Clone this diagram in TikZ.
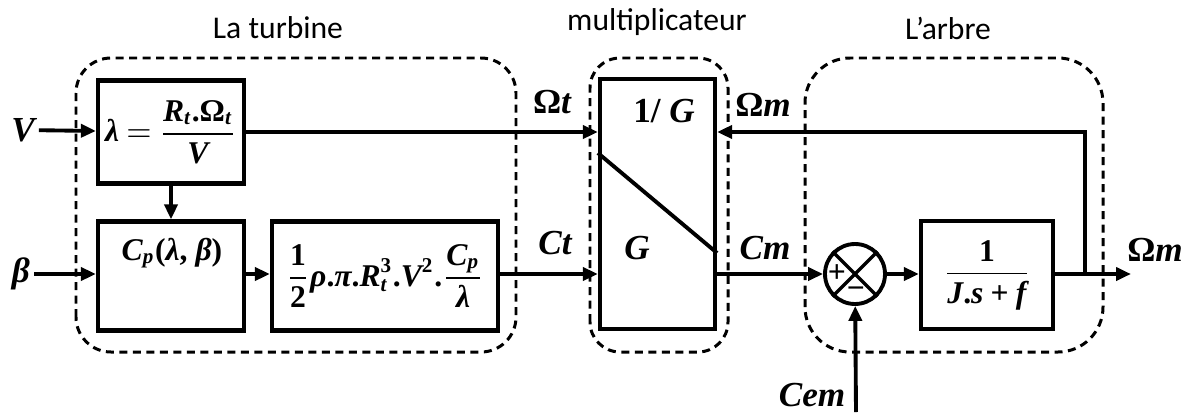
\documentclass[tikz,border=0pt]{standalone}
\usepackage{amsmath}
\usepackage{fontspec}
\setmainfont{Carlito}
\newfontfamily\labfont{Liberation Serif}
\newcommand{\vi}[1]{\text{\labfont\bfseries\itshape #1}}
\newcommand{\vu}[1]{\text{\labfont\bfseries #1}}
\usetikzlibrary{arrows.meta}

\begin{document}
\begin{tikzpicture}[
    wire/.style={draw=black, line width=1.1pt},
    signal/.style={wire, -{Triangle[length=1.5mm,width=1.3mm]}},
    boundary/.style={draw=black, line width=0.85pt,
        dash pattern=on 0.8mm off 0.55mm},
    block/.style={draw=black, line width=1.2pt, inner sep=1pt,
        font=\fontsize{9}{11}\selectfont},
    summer/.style={draw=black, circle, line width=1.1pt,
        minimum size=6.0mm, inner sep=0pt},
    sign/.style={font=\fontsize{9}{10}\selectfont\labfont\bfseries,
        inner sep=0pt},
    sig label/.style={font=\fontsize{10}{12}\selectfont\labfont\bfseries\itshape,
        inner sep=1pt},
    part title/.style={font=\fontsize{9}{10}\selectfont, inner sep=1pt}
]
    \path[use as bounding box] (0,0) rectangle (11.86,4.12);

% La turbine
    \draw[boundary, rounded corners=3.5mm] (0.76,0.60) rectangle (5.16,3.54);
    \node[part title] (title-turb) at (2.78,3.84) {La turbine};

    \node[block, minimum width=1.46cm, minimum height=1.03cm]
        (turb-lambda) at (1.71,2.80)
        {$\vi{λ}\mkern-1mu=\mkern-1mu
          \dfrac{\vi{R}_{\vi{t}}\vu{.Ω}_{\vi{t}}}{\vi{V}}$};
    \node[block, minimum width=1.46cm, minimum height=1.09cm]
        (turb-cp) at (1.71,1.36) {};
    \node[block, draw=none] (turb-cp-text) at (1.72,1.59)
        {$\vi{C}_{\vi{p}}\vu{(}\vi{λ}\vu{, }\vi{β}\vu{)}$};
    \node[block, minimum width=2.26cm, minimum height=1.09cm]
        (turb-power) at (3.85,1.36)
        {$\dfrac{\vu{1}}{\vu{2}}\vi{ρ}\vu{.}\vi{π}\vu{.}\vi{R}_{\vi{t}}^{\vu{3}}\vu{.}
          \vi{V}^{\vu{2}}\vu{.}\dfrac{\vi{C}_{\vi{p}}}{\vi{λ}}$};

    \node[sig label] (in-V) at (0.23,2.82) {V};
    \node[sig label] (in-beta) at (0.21,1.38) {β};

    \draw[signal] (in-V) -- (turb-lambda);
    \draw[signal] (in-beta) -- (in-beta -| turb-cp.west);
    \draw[signal] (turb-lambda) -- (turb-cp);
    \draw[signal] (turb-cp.east |- in-beta) -- (in-beta -| turb-power.west);

% multiplicateur
    \draw[boundary, rounded corners=3mm] (5.90,0.60) rectangle (7.28,3.54);
    \node[part title] (title-mult) at (6.57,3.90) {multiplicateur};

    \node[block, minimum width=1.15cm, minimum height=2.50cm]
        (mult-gain) at (6.575,2.08) {};
    \draw[wire] (mult-gain.west |- 0,2.59) -- (mult-gain.east |- 0,1.59);
    \node[sig label] (mult-inv) at (6.64,3.01) {{\upshape 1/} G};
    \node[sig label] (mult-G) at (6.37,1.64) {G};

    \draw[signal] (turb-lambda) -- (turb-lambda -| mult-gain.west);
    \draw[signal] (in-beta -| turb-power.east) -- (in-beta -| mult-gain.west);
    \node[sig label] (lab-Wt) at (5.52,3.10) {{\upshape Ω}t};
    \node[sig label] (lab-Ct) at (5.55,1.69) {Ct};

% L'arbre
    \draw[boundary, rounded corners=4.5mm] (8.05,0.60) rectangle (11.03,3.54);
    \node[part title] (title-shaft) at (9.48,3.84) {L’arbre};

    \node[summer] (shaft-sum) at (8.55,1.38) {};
    \draw[wire, line width=1pt] (shaft-sum.45) -- (shaft-sum.225);
    \draw[wire, line width=1pt] (shaft-sum.135) -- (shaft-sum.315);
    \node[sign] (sum-plus) at (8.37,1.38) {+};
    \node[sign] (sum-minus) at (8.56,1.19) {−};

    \node[block, minimum width=1.32cm, minimum height=1.08cm]
        (shaft-tf) at (9.87,1.37)
        {$\dfrac{\vu{1}}{\vi{J}\vu{.}\vi{s}\mathbin{\vu{+}}\vi{f}}$};

    \coordinate (shaft-branch) at (10.85,1.38);
    \coordinate (out-Wm) at (11.31,1.38);
    \coordinate (in-Cem) at (8.56,0);

    \draw[signal] (mult-gain.east |- shaft-sum) -- (shaft-sum);
    \draw[signal] (shaft-sum) -- (shaft-sum -| shaft-tf.west);
    \draw[signal] (shaft-sum -| shaft-tf.east) -- (out-Wm);
    \draw[signal] (shaft-branch) |- (mult-gain.east |- turb-lambda);
    \draw[signal] (in-Cem) -- (shaft-sum);

    \node[sig label] (lab-Wm) at (7.63,3.07) {{\upshape Ω}m};
    \node[sig label] (lab-Cm) at (7.65,1.64) {Cm};
    \node[sig label] (lab-Wm-out) at (11.55,1.62) {{\upshape Ω}m};
    \node[sig label] (lab-Cem) at (8.12,0.17) {Cem};

\end{tikzpicture}
\end{document}
